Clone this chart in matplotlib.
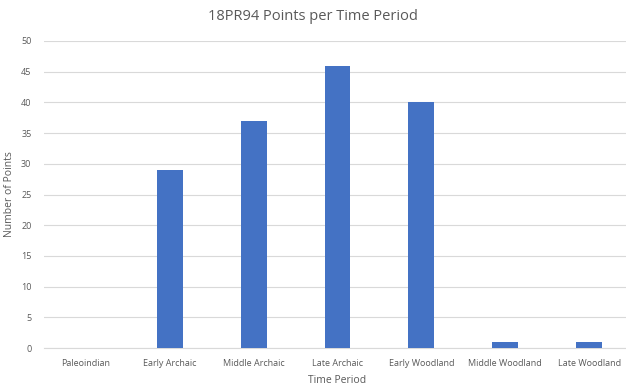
import matplotlib
matplotlib.use("Agg")
import matplotlib.pyplot as plt

# points recovered per period at site 18PR94
periods = ["Paleoindian", "Early Archaic", "Middle Archaic", "Late Archaic",
           "Early Woodland", "Middle Woodland", "Late Woodland"]
counts = [0, 29, 37, 46, 40, 1, 1]
yticks = [0, 5, 10, 15, 20, 25, 30, 35, 40, 45, 50]

plt.rcParams["font.family"] = ["Open Sans", "DejaVu Sans"]

W, H = 626, 389
fig = plt.figure(figsize=(W / 100, H / 100), dpi=100)
fig.patch.set_facecolor("white")
# axes box in pixel coords: left 44, right 631 (spills past edge), top 41, bottom 348
ax = fig.add_axes([44 / W, 1 - 348 / H, (631 - 44) / W, (348 - 41) / H])

x = list(range(len(periods)))
ax.bar(x, counts, width=0.31, color="#4472C4", zorder=3)

ax.set_xlim(-0.5, len(periods) - 0.5)
ax.set_ylim(0, 50)
ax.set_yticks(yticks)
ax.set_xticks(x)
ax.set_xticklabels(periods)
ax.tick_params(axis="both", length=0, labelsize=6.5, colors="#595959")
ax.tick_params(axis="x", pad=8)
ax.tick_params(axis="y", pad=9)

ax.grid(axis="y", color="#d9d9d9", linewidth=0.8, zorder=0)
for s in ["top", "right", "left"]:
    ax.spines[s].set_visible(False)
ax.spines["bottom"].set_color("#d9d9d9")
ax.spines["bottom"].set_linewidth(0.8)

ax.set_xlabel("Time Period", fontsize=7.5, color="#595959", labelpad=5)
ax.set_ylabel("Number of Points", fontsize=7.5, color="#595959")
ax.yaxis.set_label_coords((15 - 44) / (631 - 44), 0.5)
fig.text(313 / W, 1 - 17 / H, "18PR94 Points per Time Period", ha="center",
         va="center", fontsize=10.5, color="#595959")

fig.savefig("out.png", dpi=100)
